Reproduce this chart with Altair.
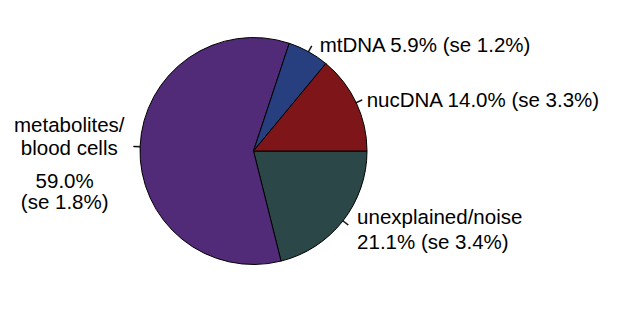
import math
import altair as alt
import pandas as pd

# Data (order = clockwise starting from 3 o'clock)
names = ["unexplained/noise", "metabolites/\nblood cells", "mtDNA", "nucDNA"]
keys = ["unexplained", "metabolites", "mtDNA", "nucDNA"]
values = [21.1, 59.0, 5.9, 14.0]
ses = [3.4, 1.8, 1.2, 3.3]
colors = ["#2c4747", "#512b77", "#283f7f", "#7e1619"]

df = pd.DataFrame({"key": keys, "name": names, "value": values, "se": ses})
df["order"] = range(len(df))
df["stat"] = [f"{v:.1f}% (se {s:.1f}%)" for v, s in zip(values, ses)]
df["label_one"] = df["name"] + " " + df["stat"]
df["label_two"] = df["name"] + "\n" + df["stat"]
df["pct"] = [f"{v:.1f}%" for v in values]
df["se_txt"] = [f"(se {s:.1f}%)" for s in ses]
df["label_val"] = df["pct"] + "\n" + df["se_txt"]

CX, CY, R = 253.5, 151, 113.5
FONT = "Liberation Sans"
FS = 20.5

theta_scale = alt.Scale(domain=[0, 100], range=[math.pi / 2, 5 * math.pi / 2])

base = (
    alt.Chart(df)
    .transform_window(end="sum(value)", sort=[alt.SortField("order")], frame=[None, 0])
    .transform_calculate(start="datum.end - datum.value", mid="datum.end - datum.value / 2")
)

pie = base.mark_arc(stroke="black", strokeWidth=1).encode(
    theta=alt.Theta("start:Q", scale=theta_scale, stack=None),
    theta2="end:Q",
    radius=alt.value(R),
    x=alt.value(CX),
    y=alt.value(CY),
    color=alt.Color("key:N", scale=alt.Scale(domain=keys, range=colors), legend=None),
)

ticks = base.transform_calculate(
    t0="datum.mid - 0.07", t1="datum.mid + 0.07"
).mark_arc(fill="black", stroke="black", strokeWidth=0.4).encode(
    theta=alt.Theta("t0:Q", scale=theta_scale, stack=None),
    theta2="t1:Q",
    radius=alt.value(120),
    radius2=alt.value(R),
    x=alt.value(CX),
    y=alt.value(CY),
)


def label(key, field, align, dx, dy, line_height=24):
    return base.transform_filter(alt.datum.key == key).mark_text(
        font=FONT, fontSize=FS, color="black", align=align, baseline="alphabetic",
        dx=dx, dy=dy, lineBreak="\n", lineHeight=line_height,
    ).encode(
        theta=alt.Theta("mid:Q", scale=theta_scale, stack=None),
        radius=alt.value(120),
        x=alt.value(CX),
        y=alt.value(CY),
        text=f"{field}:N",
    )


chart = alt.layer(
    pie,
    ticks,
    label("mtDNA", "label_one", "left", 8, 6),
    label("nucDNA", "label_one", "left", 4.6, 7),
    label("unexplained", "label_two", "left", 9, -1, 25.5),
    label("metabolites", "name", "center", -64.3, -14.2, 23),
    label("metabolites", "label_val", "center", -68.9, 41.8, 21),
).properties(
    width=625, height=310, padding=0, autosize="none", background="white"
).configure_view(stroke=None)

chart.save("out.html", embed_options={"renderer": "svg", "actions": False})
